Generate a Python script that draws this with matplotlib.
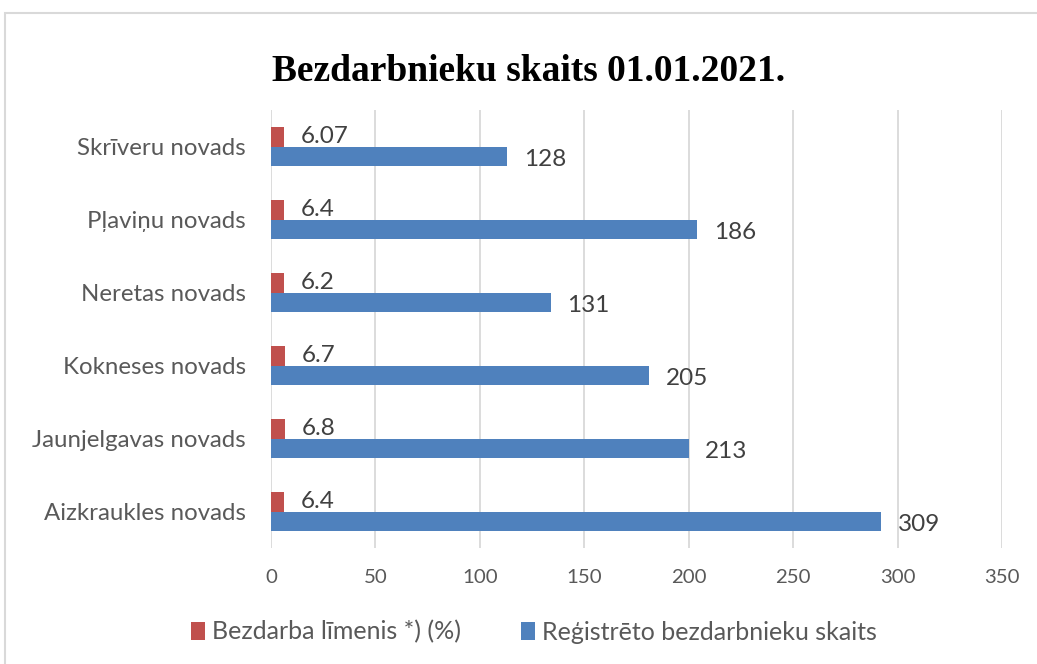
import matplotlib.pyplot as plt
from matplotlib.patches import Rectangle

novadi = ['Aizkraukles novads', 'Jaunjelgavas novads', 'Kokneses novads',
          'Neretas novads', 'Pļaviņu novads', 'Skrīveru novads']
# bar lengths as drawn in the original chart
bezdarbnieki = [292, 200, 181, 134, 204, 113]
# labels as printed in the original chart
bezdarbnieki_labels = ['309', '213', '205', '131', '186', '128']
bezdarba_limenis = [6.4, 6.8, 6.7, 6.2, 6.4, 6.07]
limenis_labels = ['6.4', '6.8', '6.7', '6.2', '6.4', '6.07']

red = '#c0504d'
blue = '#4f81bd'
txt = '#404040'
tick_col = '#595959'
sans = ['Lato', 'DejaVu Sans']

fig = plt.figure(figsize=(10.37, 6.64), dpi=100)
ax = fig.add_axes([0.2613, 0.1747, 0.7049, 0.6593])

# chart border
fig.patches.append(Rectangle((0.005, -0.01), 1.0, 0.99, transform=fig.transFigure,
                             fill=False, edgecolor='#d9d9d9', linewidth=1.5))

y = list(range(len(novadi)))
h = 0.27
ax.barh([v + h / 2 for v in y], bezdarba_limenis, height=h, color=red,
        label='Bezdarba līmenis *) (%)', zorder=3)
ax.barh([v - h / 2 for v in y], bezdarbnieki, height=h, color=blue,
        label='Reģistrēto bezdarbnieku skaits', zorder=3)

for i in y:
    ax.annotate(limenis_labels[i], (bezdarba_limenis[i], i + h / 2),
                xytext=(12, 0), textcoords='offset points', va='center', ha='left',
                fontsize=17.5, color=txt, family=sans, zorder=4)
    ax.annotate(bezdarbnieki_labels[i], (bezdarbnieki[i], i - h / 2),
                xytext=(12, -2), textcoords='offset points', va='center', ha='left',
                fontsize=17.5, color=txt, family=sans, zorder=4)

ax.set_xlim(0, 350)
ax.set_ylim(-0.5, 5.5)
ax.set_xticks(range(0, 351, 50))
ax.set_yticks(y)
ax.set_yticklabels(novadi)
ax.grid(axis='x', color='#d9d9d9', linewidth=1.3, zorder=0)
for s in ax.spines.values():
    s.set_visible(False)
ax.tick_params(length=0)
ax.tick_params(axis='y', pad=18)
ax.tick_params(axis='x', pad=15)
for lab in ax.get_yticklabels():
    lab.set_fontsize(17.3)
    lab.set_color(tick_col)
    lab.set_family(sans)
for lab in ax.get_xticklabels():
    lab.set_fontsize(14.7)
    lab.set_color(tick_col)
    lab.set_family(sans)

fig.text(0.51, 0.893, 'Bezdarbnieku skaits 01.01.2021.', ha='center', va='center',
         fontsize=27, fontweight='bold', family='Liberation Serif', color='black')

leg = fig.legend(loc='center', bbox_to_anchor=(0.515, 0.048), ncol=2, frameon=False,
                 prop={'family': sans, 'size': 18}, handlelength=0.55, handleheight=0.7,
                 handletextpad=0.3, columnspacing=2.4)
for t in leg.get_texts():
    t.set_color(tick_col)

fig.savefig('out.png', dpi=100)
